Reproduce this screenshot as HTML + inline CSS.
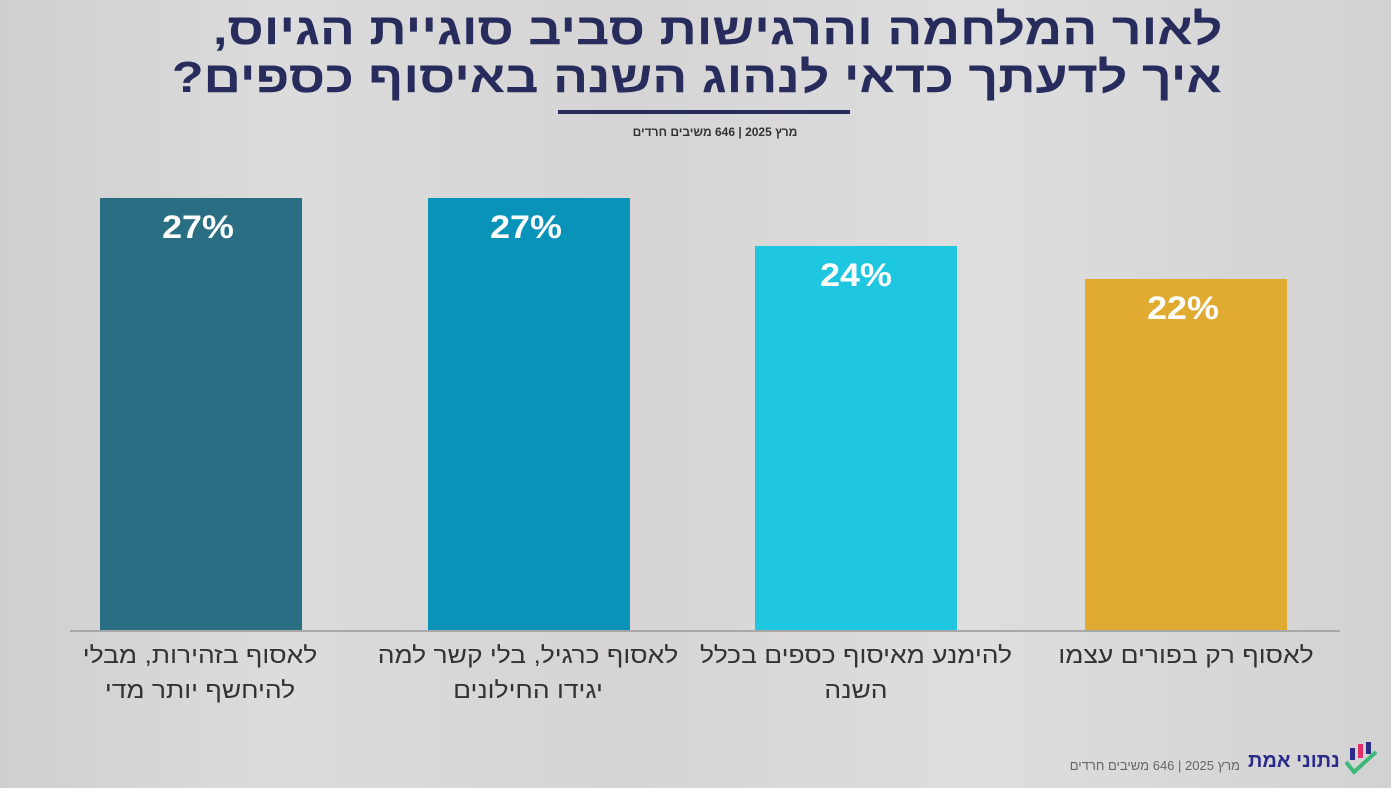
<!DOCTYPE html>
<html><head><meta charset="utf-8"><style>
html,body{margin:0;padding:0;}
body{width:1400px;height:793px;position:relative;overflow:hidden;background:#fff;font-family:"Liberation Sans","Noto Sans CJK SC",sans-serif;}
#bg{position:absolute;left:0;top:0;width:1391px;height:788px;background:linear-gradient(90deg,#cfcfcf 0%,#dcdcdc 20%,#d6d4d4 45%,#dedede 70%,#d2d2d2 100%);}
.t{position:absolute;right:178px;direction:rtl;color:#272c5c;font-weight:bold;font-size:44px;line-height:48px;white-space:nowrap;transform:scaleX(1.18);transform-origin:right center;}
.bar{position:absolute;width:202px;bottom:163px;}
.v{position:absolute;width:202px;text-align:center;color:#fff;font-weight:bold;font-size:32px;transform:scaleX(1.12);}
.lab{position:absolute;width:300px;text-align:center;direction:rtl;color:#333;font-size:23px;line-height:35px;transform:scaleX(1.15);}
</style></head><body>
<div id="bg"></div>
<div class="t" style="top:6px">לאור המלחמה והרגישות סביב סוגיית הגיוס,</div>
<div class="t" style="top:54px">איך לדעתך כדאי לנהוג השנה באיסוף כספים?</div>
<div style="position:absolute;left:558px;top:110px;width:292px;height:4px;background:#272c5c"></div>
<div style="position:absolute;left:600px;width:230px;top:125px;text-align:center;direction:rtl;font-size:12px;font-weight:bold;color:#333">מרץ 2025 | 646 משיבים חרדים</div>
<div class="bar" style="left:100px;top:198px;height:432px;background:#2a6e83"></div>
<div class="bar" style="left:428px;top:198px;height:432px;background:#0993b9"></div>
<div class="bar" style="left:755px;top:246px;height:384px;background:#1fc6e0"></div>
<div class="bar" style="left:1085px;top:279px;height:351px;background:#e0ab30"></div>
<div class="v" style="left:97px;top:209px">27%</div>
<div class="v" style="left:425px;top:209px">27%</div>
<div class="v" style="left:755px;top:257px">24%</div>
<div class="v" style="left:1082px;top:290px">22%</div>
<div style="position:absolute;left:70px;top:630px;width:1270px;height:2px;background:#a8a8a8"></div>
<div class="lab" style="left:50px;top:638px">לאסוף בזהירות, מבלי<br>להיחשף יותר מדי</div>
<div class="lab" style="left:378px;top:638px">לאסוף כרגיל, בלי קשר למה<br>יגידו החילונים</div>
<div class="lab" style="left:706px;top:638px">להימנע מאיסוף כספים בכלל<br>השנה</div>
<div class="lab" style="left:1036px;top:638px">לאסוף רק בפורים עצמו</div>
<div style="position:absolute;left:1010px;top:758px;width:230px;direction:rtl;font-size:13px;color:#666;text-align:right">מרץ 2025 | 646 משיבים חרדים</div>
<div style="position:absolute;left:1248px;top:750px;direction:rtl;font-size:20px;font-weight:bold;color:#2a2a8a">נתוני אמת</div>
<svg style="position:absolute;left:1342px;top:740px" width="40" height="40"><rect x="8" y="8" width="5" height="12" fill="#2a2a8a"/><rect x="16" y="4" width="5" height="14" fill="#e0306a"/><rect x="24" y="2" width="5" height="12" fill="#2a2a8a"/><path d="M4 22 L12 32 L34 12" stroke="#3cb878" stroke-width="4" fill="none"/></svg>
</body></html>
